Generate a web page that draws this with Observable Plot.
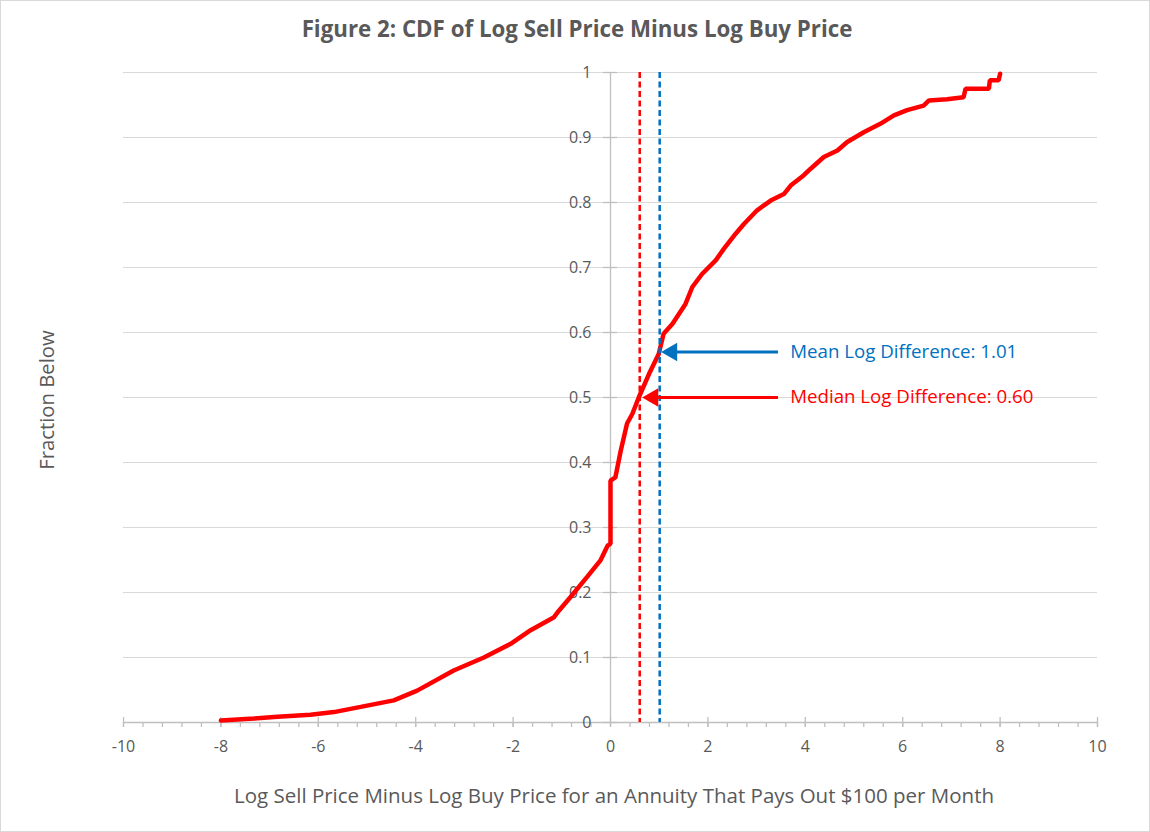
<!DOCTYPE html>
<html>
<head>
<meta charset="utf-8">
<script src="https://cdn.jsdelivr.net/npm/d3@7"></script>
<script src="https://cdn.jsdelivr.net/npm/@observablehq/plot@0.6"></script>
<style>
  html, body { margin: 0; padding: 0; background: #fff; }
  #chart { position: relative; width: 1150px; height: 832px; font-family: "Open Sans", sans-serif; outline: 1px solid #d9d9d9; outline-offset: -1px; }
  #chart svg { position: absolute; left: 0; top: 0; }
  .title { position: absolute; top: 13px; left: 0; width: 1154px; text-align: center; font-weight: bold; font-size: 22.3px; color: #595959; }
  .xlabel { position: absolute; top: 781px; left: 0; width: 1228px; text-align: center; font-size: 20.5px; color: #595959; }
  .ylabel { position: absolute; left: 46px; top: 400px; transform: translate(-50%, -50%) rotate(-90deg); font-size: 20.3px; color: #595959; white-space: nowrap; }
</style>
</head>
<body>
<div id="chart"></div>
<script>
// CDF curve (log sell price minus log buy price, fraction below)
const cdfX = [-8.00, -7.32, -6.84, -6.16, -5.68, -5.13, -4.45, -3.97, -3.22, -2.60, -2.05, -1.64, -1.16, -1.06, -0.82, -0.48, -0.21, -0.06, 0.00, 0.00,
  0.10, 0.21, 0.34, 0.45, 0.58, 0.79, 0.99, 1.09, 1.27, 1.54, 1.68, 1.88, 2.16, 2.33, 2.57, 2.74, 3.01, 3.29, 3.56, 3.70,
  3.97, 4.11, 4.38, 4.66, 4.86, 5.20, 5.54, 5.82, 6.09, 6.43, 6.54, 6.91, 7.25, 7.29, 7.77, 7.79, 7.97, 8.00];
const cdfY = [0.003, 0.006, 0.009, 0.012, 0.016, 0.024, 0.034, 0.049, 0.080, 0.100, 0.121, 0.142, 0.162, 0.172, 0.193, 0.224, 0.249, 0.272, 0.275, 0.372,
  0.377, 0.418, 0.460, 0.475, 0.500, 0.536, 0.567, 0.598, 0.613, 0.644, 0.670, 0.690, 0.711, 0.729, 0.752, 0.767, 0.788, 0.803, 0.813, 0.826,
  0.842, 0.852, 0.870, 0.880, 0.893, 0.908, 0.921, 0.934, 0.942, 0.949, 0.957, 0.959, 0.962, 0.975, 0.975, 0.988, 0.988, 0.998];

// reference values
const refNames = ["Median", "Mean"];
const refValues = [0.60, 1.01];
const refColors = ["#ff0000", "#0070c0"];

// annotations
const noteLabels = ["Median Log Difference: 0.60", "Mean Log Difference: 1.01"];
const noteY = [0.50, 0.57];
const noteTipX = [0.65, 1.04];
const noteTailX = [3.45, 3.45];
const noteTextX = [3.69, 3.69];

// ticks
const xTicks = [-10, -8, -6, -4, -2, 0, 2, 4, 6, 8, 10];
const xMinorTicks = d3.range(-10, 10.0001, 0.4).map(d => Math.round(d * 10) / 10);
const yTicks = [0, 0.1, 0.2, 0.3, 0.4, 0.5, 0.6, 0.7, 0.8, 0.9, 1];

const curve = cdfX.map((x, i) => ({x, y: cdfY[i]}));
const refs = refValues.map((v, i) => ({name: refNames[i], v, color: refColors[i]}));
const notes = noteLabels.map((t, i) => ({text: t, y: noteY[i], tip: noteTipX[i], tail: noteTailX[i], tx: noteTextX[i], color: refColors[i]}));

const axisGray = "#bfbfbf";
const textGray = "#595959";

const plot = Plot.plot({
  width: 1150,
  height: 832,
  marginLeft: 123,
  marginRight: 53,
  marginTop: 72,
  marginBottom: 110,
  style: {fontFamily: "Open Sans, sans-serif", background: "transparent"},
  x: {domain: [-10, 10]},
  y: {domain: [0, 1]},
  marks: [
    Plot.ruleY(yTicks, {stroke: "#d9d9d9", strokeWidth: 1}),
    Plot.ruleY([0], {stroke: axisGray, strokeWidth: 1.3}),
    Plot.ruleX([0], {stroke: axisGray, strokeWidth: 1.3}),
    Plot.ruleY(yTicks, {x1: 0, x2: 0, insetLeft: -7, insetRight: -7, stroke: axisGray, strokeWidth: 1.3}),
    Plot.axisX({ticks: xMinorTicks, tickSize: 5, tickFormat: () => "", stroke: axisGray, strokeWidth: 1.3, label: null}),
    Plot.ruleX(xTicks, {y1: 0, y2: 0, insetTop: -5, insetBottom: -5, stroke: axisGray, strokeWidth: 1.3}),
    Plot.axisX({ticks: xTicks, tickSize: 0, tickPadding: 18, fontSize: 16, fill: textGray, tickFormat: d => String(d), label: null}),
    Plot.axisY({ticks: [], label: null}),
    Plot.text(yTicks, {x: 0, y: d => d, dx: -19, textAnchor: "end", fontSize: 16, fill: textGray, text: d => String(d)}),
    Plot.line(curve, {x: "x", y: "y", stroke: "#ff0000", strokeWidth: 4.5, strokeLinejoin: "miter"}),
    Plot.ruleX(refs, {x: "v", stroke: "color", strokeWidth: 2.5, strokeDasharray: "6,3.5"}),
    Plot.ruleY(notes, {y: "y", x1: "tail", x2: "tip", stroke: "color", strokeWidth: 3, insetRight: -8}),
    Plot.dot(notes, {x: "tip", y: "y", symbol: "triangle", rotate: -90, r: 6.9, dx: 10.7, fill: "color", stroke: "none"}),
    Plot.text(notes, {x: "tx", y: "y", text: "text", textAnchor: "start", fill: "color", fontSize: 18.7})
  ]
});

const chart = document.getElementById("chart");
chart.appendChild(plot);
const title = document.createElement("div");
title.className = "title";
title.textContent = "Figure 2: CDF of Log Sell Price Minus Log Buy Price";
chart.appendChild(title);
const xl = document.createElement("div");
xl.className = "xlabel";
xl.textContent = "Log Sell Price Minus Log Buy Price for an Annuity That Pays Out $100 per Month";
chart.appendChild(xl);
const yl = document.createElement("div");
yl.className = "ylabel";
yl.textContent = "Fraction Below";
chart.appendChild(yl);
</script>
</body>
</html>
